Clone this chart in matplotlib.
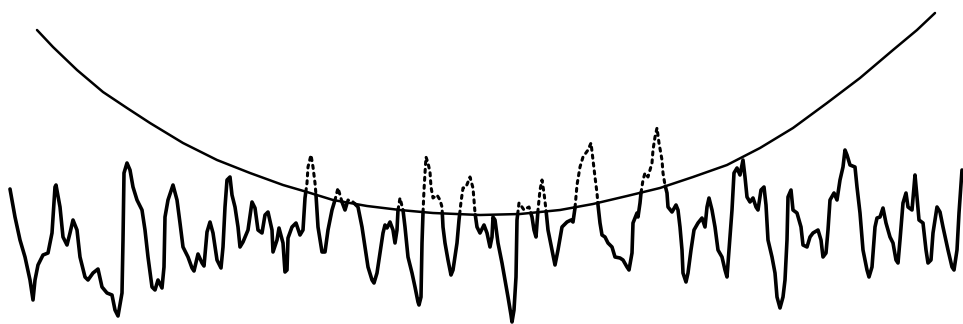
import numpy as np
import matplotlib
matplotlib.use("Agg")
import matplotlib.pyplot as plt

# Trace (pixel coords, y grows downward)
sig_x = [10, 15, 20, 25, 30, 33, 35, 38, 43, 48, 52, 55, 56, 60, 63, 67, 70, 73, 77, 80,
         85, 88, 93, 98, 102, 107, 112, 115, 118, 122, 123, 124, 127, 130, 133, 137, 142, 145, 148, 152,
         155, 158, 162, 164, 165, 168, 173, 177, 180, 183, 188, 192, 194, 198, 202, 204, 207, 210, 213, 217,
         221, 223, 225, 227, 230, 232, 235, 238, 240, 243, 248, 252, 255, 258, 262, 265, 268, 272, 273, 277,
         279, 283, 285, 287, 288, 292, 296, 300, 303, 305, 307, 308, 311, 313, 315, 316, 318, 322, 325, 328,
         332, 335, 338, 342, 345, 348, 353, 358, 362, 365, 368, 372, 374, 377, 380, 383, 385, 387, 390, 393,
         395, 397, 398, 400, 403, 405, 408, 412, 415, 418, 419, 421, 422, 423, 424, 425, 426, 428, 430, 431,
         433, 437, 440, 442, 443, 445, 448, 451, 453, 457, 459, 461, 463, 466, 470, 473, 474, 475, 477, 480,
         484, 487, 490, 492, 493, 495, 498, 502, 505, 508, 511, 512, 514, 516, 517, 519, 522, 524, 527, 529,
         532, 534, 536, 538, 540, 542, 544, 546, 548, 552, 555, 558, 562, 567, 571, 573, 575, 577, 580, 583,
         588, 591, 593, 595, 597, 598, 600, 602, 605, 608, 612, 615, 620, 623, 627, 629, 632, 633, 637, 638,
         640, 641, 643, 645, 648, 652, 653, 655, 657, 659, 662, 663, 665, 667, 668, 672, 676, 678, 680, 682,
         683, 686, 688, 691, 694, 698, 702, 705, 707, 709, 712, 715, 718, 722, 725, 727, 729, 732, 734, 737,
         740, 743, 745, 747, 750, 753, 756, 758, 761, 764, 766, 768, 772, 775, 777, 780, 783, 785, 787, 788,
         791, 793, 797, 801, 803, 807, 810, 813, 818, 821, 823, 826, 828, 830, 834, 837, 840, 843, 845, 847,
         850, 855, 857, 860, 863, 867, 869, 872, 875, 877, 880, 883, 886, 890, 893, 896, 898, 900, 903, 906,
         908, 912, 914, 915, 917, 919, 923, 926, 928, 931, 933, 937, 940, 943, 948, 952, 954, 957, 959, 962]
sig_y = [189, 217, 240, 257, 280, 300, 280, 265, 255, 253, 233, 187, 185, 207, 237, 245, 233, 220, 230, 257,
         277, 280, 273, 269, 287, 293, 295, 310, 316, 293, 240, 173, 163, 170, 187, 200, 210, 230, 257, 287,
         290, 280, 288, 267, 217, 200, 185, 200, 223, 247, 257, 268, 271, 254, 263, 266, 232, 222, 233, 260,
         268, 247, 207, 180, 177, 195, 207, 227, 247, 242, 230, 202, 208, 230, 233, 215, 212, 230, 252, 240,
         228, 243, 272, 270, 238, 227, 223, 235, 230, 198, 183, 167, 155, 167, 183, 195, 227, 252, 252, 230,
         210, 200, 188, 202, 210, 200, 202, 207, 227, 247, 267, 280, 283, 273, 253, 233, 225, 228, 222, 230,
         243, 230, 210, 198, 210, 227, 257, 273, 287, 302, 305, 297, 243, 213, 190, 173, 157, 163, 172, 187,
         198, 195, 200, 207, 227, 243, 260, 275, 270, 243, 220, 202, 188, 187, 177, 188, 200, 213, 227, 233,
         225, 233, 247, 237, 217, 220, 243, 263, 280, 297, 315, 322, 310, 277, 220, 203, 207, 210, 208, 207,
         217, 230, 237, 210, 190, 180, 193, 210, 230, 250, 265, 250, 227, 222, 220, 222, 208, 185, 167, 157,
         150, 143, 160, 177, 193, 205, 223, 235, 237, 243, 247, 257, 258, 260, 267, 270, 253, 223, 213, 217,
         203, 193, 180, 173, 177, 163, 150, 137, 128, 143, 160, 173, 185, 193, 207, 212, 205, 210, 227, 250,
         273, 282, 273, 250, 230, 223, 218, 227, 207, 198, 210, 227, 250, 257, 270, 277, 250, 210, 173, 168,
         175, 160, 177, 197, 202, 198, 207, 210, 190, 187, 205, 240, 257, 273, 297, 308, 297, 280, 240, 197,
         190, 210, 213, 227, 245, 247, 237, 233, 230, 240, 257, 253, 230, 200, 193, 200, 180, 167, 150, 155,
         165, 167, 187, 213, 250, 270, 277, 267, 227, 218, 217, 208, 223, 237, 243, 260, 263, 240, 203, 193,
         207, 210, 187, 175, 197, 220, 223, 250, 263, 260, 233, 207, 212, 227, 250, 267, 270, 250, 213, 170]

# The arc over the trace
arc_x = [37, 53, 77, 103, 127, 150, 183, 217, 250, 283, 307, 333, 367, 400, 433,
         480, 520, 560, 593, 627, 660, 693, 727, 760, 793, 827, 860, 893, 917, 935]
arc_y = [30, 47, 70, 92, 108, 123, 143, 160, 173, 185, 192, 200, 206, 210, 213,
         215, 214, 210, 204, 196, 188, 177, 165, 148, 128, 103, 78, 50, 30, 13]

sx = np.array(sig_x, dtype=float)
sy = np.array(sig_y, dtype=float)
ax_arr = np.array(arc_x, dtype=float)
ay_arr = np.array(arc_y, dtype=float)

# split the trace where it crosses the arc
d = np.interp(sx, ax_arr, ay_arr) - sy  # > 0 means above the arc
px, py = [sx[0]], [sy[0]]
for i in range(len(sx) - 1):
    if d[i] * d[i + 1] < 0:
        t = d[i] / (d[i] - d[i + 1])
        px.append(sx[i] + t * (sx[i + 1] - sx[i]))
        py.append(sy[i] + t * (sy[i + 1] - sy[i]))
    px.append(sx[i + 1])
    py.append(sy[i + 1])
px = np.array(px)
py = np.array(py)

mid_x = (px[:-1] + px[1:]) / 2
mid_y = (py[:-1] + py[1:]) / 2
above = np.interp(mid_x, ax_arr, ay_arr) - mid_y > 0

fig = plt.figure(figsize=(9.63, 3.24), dpi=100)
ax = fig.add_axes([0, 0, 1, 1])

start = 0
for i in range(1, len(above) + 1):
    if i == len(above) or above[i] != above[start]:
        xs = px[start:i + 1]
        ys = py[start:i + 1]
        if above[start]:
            ax.plot(xs, ys, color="black", lw=2.2, linestyle=(0, (1, 1.6)),
                    dash_capstyle="round")
        else:
            ax.plot(xs, ys, color="black", lw=2.6, solid_joinstyle="round",
                    solid_capstyle="round")
        start = i

ax.plot(ax_arr, ay_arr, color="black", lw=1.8, solid_capstyle="round",
        solid_joinstyle="round")

ax.set_xlim(0, 963)
ax.set_ylim(324, 0)
ax.axis("off")

fig.savefig("out.png", dpi=100, facecolor="white")
